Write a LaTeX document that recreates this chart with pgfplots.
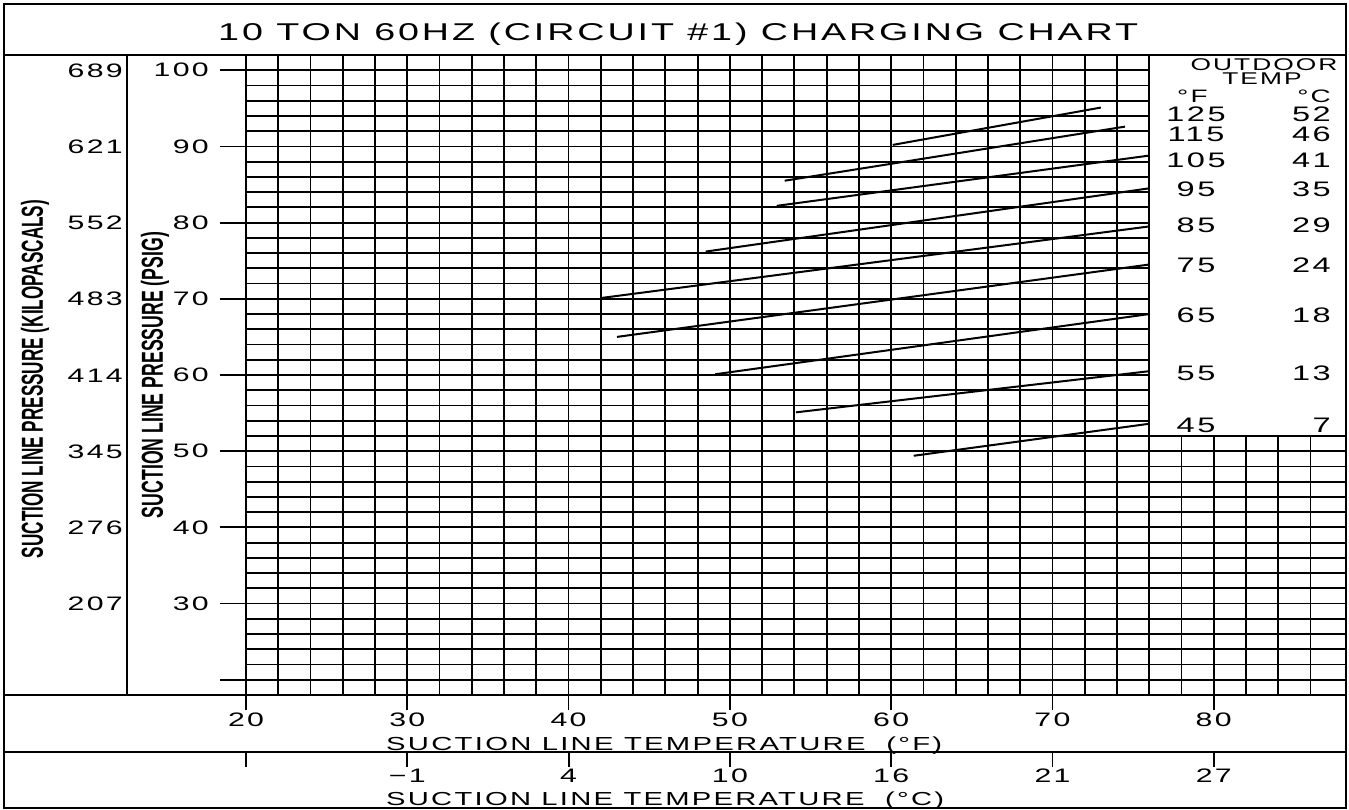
\documentclass[border=0pt]{standalone}
\usepackage{pgfplots}
\pgfplotsset{compat=1.18}
\usepackage{fontspec}
\setmainfont{Liberation Sans}
\newfontfamily\cad[FakeStretch=1.55,LetterSpace=12]{Liberation Sans}
\newfontfamily\cadn{Liberation Sans}
\newcommand\fa{\cad\fontsize{19.5}{20}\selectfont}
\newcommand\fb{\cad\fontsize{21}{22}\selectfont}
\newcommand\fd{\cad\fontsize{18}{19}\selectfont}
\newcommand\fe{\cad\fontsize{17}{18}\selectfont}
\begin{document}
\begin{tikzpicture}[x=1pt,y=1pt]
\useasboundingbox (0pt,0pt) rectangle (1349pt,-810pt);
\begin{axis}[
  at={(246pt,-695pt)}, anchor=south west,
  scale only axis, width=1100pt, height=640pt,
  xmin=20, xmax=88.2, ymin=18, ymax=102,
  xtick={20,22,...,86}, ytick={20,22,...,100},
  xticklabels={}, yticklabels={},
  major tick length=0pt,
  tick pos=left,
  grid=major,
  grid style={black, line width=1.8pt},
  major grid style={black, line width=1.8pt},
  axis line style={black, line width=2.2pt},
  extra x ticks={20,30,...,80},
  extra x tick labels={20,30,40,50,60,70,80},
  extra x tick style={major tick length=15pt, tick align=outside,
     major tick style={black, line width=1.8pt},
     xticklabel style={font=\fa, anchor=north, inner sep=0pt, yshift=-3pt}},
  extra y ticks={20,30,...,100},
  extra y tick labels={,30,40,50,60,70,80,90,100},
  extra y tick style={major tick length=26pt, tick align=outside,
     major tick style={black, line width=1.8pt},
     yticklabel style={font=\fa, anchor=east, inner sep=0pt, xshift=-11pt}},
]
\fill[white] (axis cs:76,52) rectangle (axis cs:88.2,102);
\addplot[black, line width=2pt] coordinates {(60.1,90.2) (73.0,95.1)};
\addplot[black, line width=2pt] coordinates {(53.4,85.5) (74.5,92.6)};
\addplot[black, line width=2pt] coordinates {(52.9,82.2) (76,88.8)};
\addplot[black, line width=2pt] coordinates {(48.5,76.2) (76,84.5)};
\addplot[black, line width=2pt] coordinates {(42.0,70.1) (76,79.5)};
\addplot[black, line width=2pt] coordinates {(43.0,65.0) (76,74.5)};
\addplot[black, line width=2pt] coordinates {(49.1,60.1) (76,68.0)};
\addplot[black, line width=2pt] coordinates {(54.1,55.1) (76,60.5)};
\addplot[black, line width=2pt] coordinates {(61.4,49.4) (76,53.6)};
\draw[black, line width=2.2pt] (axis cs:76,102) -- (axis cs:76,52) -- (axis cs:88.2,52);
\end{axis}
% frame
\draw[line width=2.5pt] (4pt,-4pt) rectangle (1346pt,-808pt);
\draw[line width=2.2pt] (4pt,-55pt) -- (1346pt,-55pt);
\draw[line width=2.2pt] (127pt,-55pt) -- (127pt,-695pt);
\draw[line width=2.2pt] (4pt,-695pt) -- (1346pt,-695pt);
\draw[line width=2.2pt] (4pt,-752pt) -- (1346pt,-752pt);
% title
\node[anchor=base west, inner sep=0pt] at (218pt,-41pt) {\resizebox{920pt}{!}{\fb 10 TON 60HZ (CIRCUIT \#1) CHARGING CHART}};
% kPa labels
\foreach \y/\t in {70.2/689,146.4/621,222.6/552,298.8/483,375/414,451.2/345,527.4/276,603.6/207}
  \node[anchor=base east, inner sep=0pt] at (123pt,{-\y pt-7pt}) {\fa \t};
% rotated labels
\node[rotate=90, inner sep=0pt] at (35pt,-379pt) {\resizebox{358pt}{22pt}{\cadn\bfseries SUCTION LINE PRESSURE (KILOPASCALS)}};
\node[rotate=90, inner sep=0pt] at (155pt,-375pt) {\resizebox{286pt}{22pt}{\cadn\bfseries SUCTION LINE PRESSURE (PSIG)}};
% x titles
\node[anchor=base west, inner sep=0pt] at (386pt,-750pt) {\resizebox{556pt}{!}{\fa SUCTION LINE TEMPERATURE\ \ (°F)}};
\node[anchor=base west, inner sep=0pt] at (386pt,-805pt) {\resizebox{558pt}{!}{\fa SUCTION LINE TEMPERATURE\ \ (°C)}};
% Celsius ticks
\foreach \x/\t in {246/,407.3/−1,568.6/4,729.9/10,891.2/16,1052.5/21,1213.8/27} {
  \draw[line width=1.8pt] (\x pt,-752pt) -- (\x pt,-767pt);
  \node[anchor=base, inner sep=0pt] at (\x pt,-782pt) {\fa \t};
}
% legend
\node[anchor=base, inner sep=0pt] at (1264pt,-70.5pt) {\fe OUTDOOR};
\node[anchor=base, inner sep=0pt] at (1262pt,-85pt) {\fe TEMP};
\node[anchor=base west, inner sep=0pt] at (1177pt,-103pt) {\fd °F};
\node[anchor=base east, inner sep=0pt] at (1331pt,-103pt) {\fd °C};
\foreach \y/\f/\c in {122/125/52,142/115/46,168/105/41,197/95/35,233/85/29,273/75/24,323/65/18,380/55/13,432/45/7} {
  \node[anchor=base, inner sep=0pt] at (1196pt,-\y pt) {\fb \f};
  \node[anchor=base east, inner sep=0pt] at (1331pt,-\y pt) {\fb \c};
}
\end{tikzpicture}
\end{document}
